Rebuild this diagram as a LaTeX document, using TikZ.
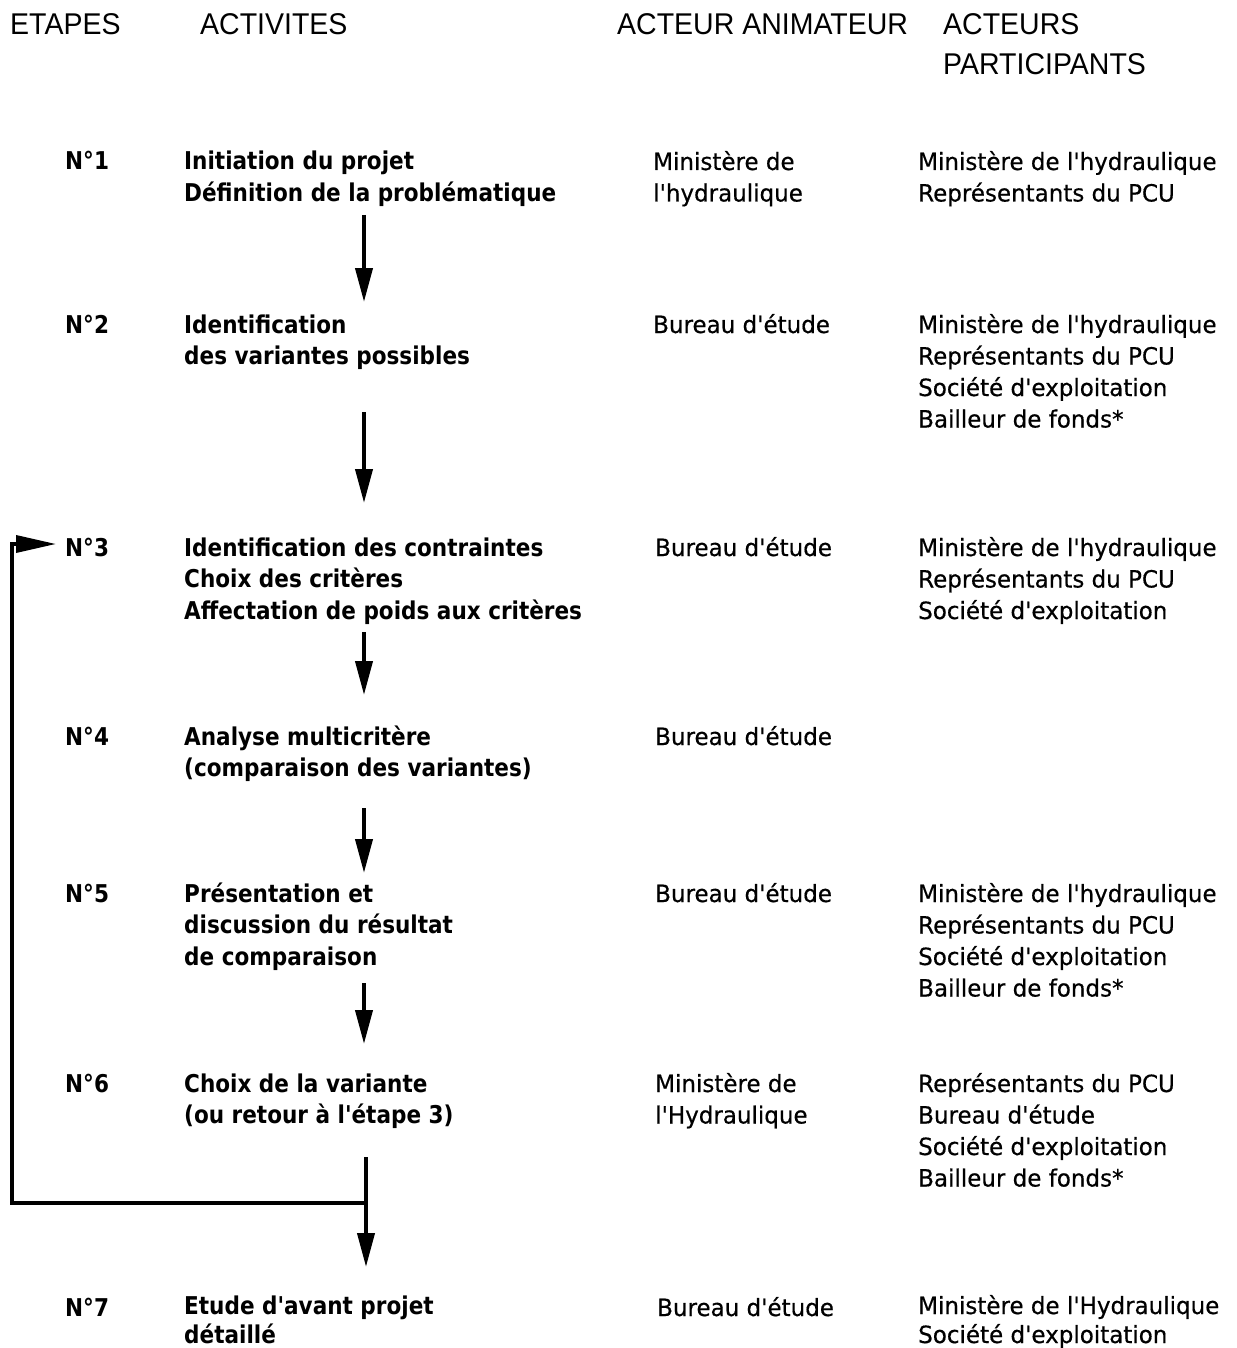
\documentclass[tikz,border=0pt]{standalone}
\usepackage{fontspec}
\setmainfont{DejaVu Sans}[Ligatures=TeXOff]
\newfontfamily\headfont[FakeStretch=0.95,Ligatures=TeXOff]{Liberation Sans}
\newfontfamily\actfont[FakeStretch=0.88,Ligatures=TeXOff]{DejaVu Sans Bold}
\newfontfamily\actorfont[FakeStretch=0.97,FakeBold=0.5,Ligatures=TeXOff]{DejaVu Sans}
\usetikzlibrary{arrows.meta}
\tikzset{
  head/.style={anchor=base west, inner sep=0pt, font=\headfont\fontsize{30}{40}\selectfont, align=left},
  stepno/.style={anchor=base west, inner sep=0pt, font=\actfont\fontsize{24.5}{31.5}\selectfont},
  activity/.style={anchor=base west, inner sep=0pt, align=left, font=\actfont\fontsize{24.5}{31.5}\selectfont},
  actor/.style={anchor=base west, inner sep=0pt, align=left, font=\actorfont\fontsize{23.7}{31.5}\selectfont},
  flow/.style={line width=4pt, -{Triangle[length=34pt,width=17pt]}},
  back/.style={line width=3.5pt, -{Triangle[length=40pt,width=17pt]}}
}
\begin{document}
\begin{tikzpicture}[x=1pt,y=-1pt]
\useasboundingbox (0,0) rectangle (1236,1348);
% headers (base anchor = baseline of the last line)
\node[head] (h1) at (10,35) {ETAPES};
\node[head] (h2) at (200,35) {ACTIVITES};
\node[head] (h3) at (617,35) {ACTEUR ANIMATEUR};
\node[head] (h4) at (943,75) {ACTEURS\\PARTICIPANTS};
% row 1
\node[stepno] (n1) at (65,170) {N°1};
\node[activity] (a1) at (184,201.5) {Initiation du projet\\Définition de la problématique};
\node[actor] (m1) at (653,201.5) {Ministère de\\l'hydraulique};
\node[actor] (p1) at (918,201.5) {Ministère de l'hydraulique\\Représentants du PCU};
% row 2
\node[stepno] (n2) at (65,333) {N°2};
\node[activity] (a2) at (184,364.5) {Identification\\des variantes possibles};
\node[actor] (m2) at (653,333) {Bureau d'étude};
\node[actor] (p2) at (918,427.5) {Ministère de l'hydraulique\\Représentants du PCU\\Société d'exploitation\\Bailleur de fonds*};
% row 3
\node[stepno] (n3) at (65,556) {N°3};
\node[activity] (a3) at (184,619) {Identification des contraintes\\Choix des critères\\Affectation de poids aux critères};
\node[actor] (m3) at (655,556) {Bureau d'étude};
\node[actor] (p3) at (918,619) {Ministère de l'hydraulique\\Représentants du PCU\\Société d'exploitation};
% row 4
\node[stepno] (n4) at (65,745) {N°4};
\node[activity] (a4) at (184,776.5) {Analyse multicritère\\(comparaison des variantes)};
\node[actor] (m4) at (655,745) {Bureau d'étude};
% row 5
\node[stepno] (n5) at (65,902) {N°5};
\node[activity] (a5) at (184,965) {Présentation et\\discussion du résultat\\de comparaison};
\node[actor] (m5) at (655,902) {Bureau d'étude};
\node[actor] (p5) at (918,996.5) {Ministère de l'hydraulique\\Représentants du PCU\\Société d'exploitation\\Bailleur de fonds*};
% row 6
\node[stepno] (n6) at (65,1092) {N°6};
\node[activity] (a6) at (184,1123.5) {Choix de la variante\\(ou retour à l'étape 3)};
\node[actor] (m6) at (655,1123.5) {Ministère de\\l'Hydraulique};
\node[actor] (p6) at (918,1186.5) {Représentants du PCU\\Bureau d'étude\\Société d'exploitation\\Bailleur de fonds*};
% row 7
\node[stepno] (n7) at (65,1316) {N°7};
\node[activity] (a7) at (184,1343) {Etude d'avant projet\\[-2.5pt]détaillé};
\node[actor] (m7) at (657,1316) {Bureau d'étude};
\node[actor] (p7) at (918,1343) {Ministère de l'Hydraulique\\[-2.5pt]Société d'exploitation};
% connector end points
\coordinate (s1) at (364,215); \coordinate (e1) at (364,302);
\coordinate (s2) at (364,412); \coordinate (e2) at (364,503);
\coordinate (s3) at (364,632); \coordinate (e3) at (364,695);
\coordinate (s4) at (364,808); \coordinate (e4) at (364,873);
\coordinate (s5) at (364,983); \coordinate (e5) at (364,1044);
\coordinate (s6) at (366,1157); \coordinate (e6) at (366,1267);
\coordinate (j6) at (366,1203);
\coordinate (c1) at (12,1203); \coordinate (c2) at (12,544);
\coordinate (e7) at (56,544);
\draw[flow] (s1) -- (e1);
\draw[flow] (s2) -- (e2);
\draw[flow] (s3) -- (e3);
\draw[flow] (s4) -- (e4);
\draw[flow] (s5) -- (e5);
\draw[flow] (s6) -- (e6);
\draw[back] (j6) -- (c1) -- (c2) -- (e7);
\end{tikzpicture}
\end{document}
